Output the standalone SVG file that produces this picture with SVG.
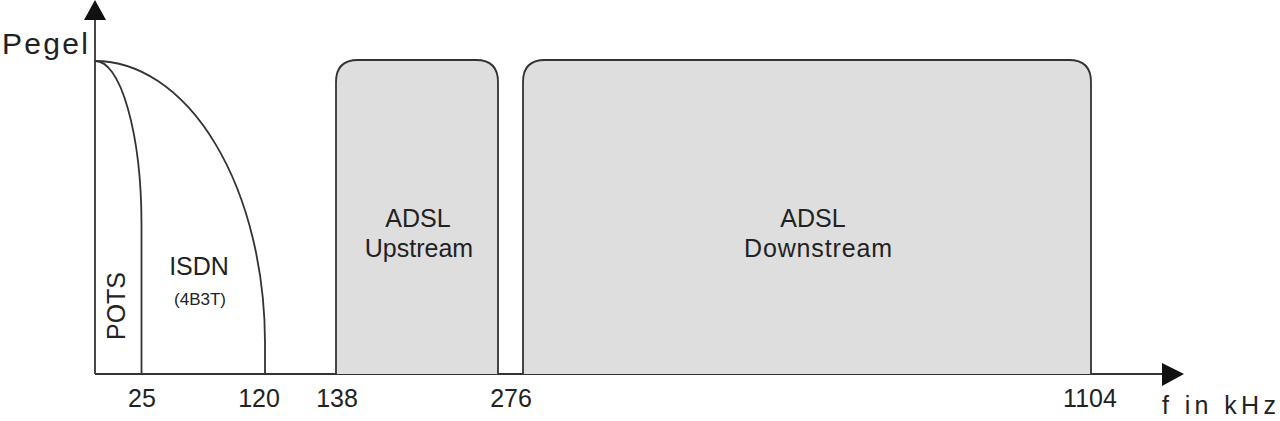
<svg xmlns="http://www.w3.org/2000/svg" width="1280" height="421" viewBox="0 0 1280 421">
  <style>
    .ln { fill: none; stroke: #333; stroke-width: 1.8; }
    .band { fill: #dedede; stroke: #333; stroke-width: 1.8; }
    .ah { fill: #111; stroke: none; }
    text { font-family: "Liberation Sans", Arial, sans-serif; fill: #222; }
    .lbl { font-size: 25px; text-anchor: middle; }
    .tick { font-size: 25px; text-anchor: middle; }
    .small { font-size: 17px; text-anchor: middle; }
  </style>
  <rect width="1280" height="421" fill="#fff"/>

  <g id="axes">
    <line class="ln" x1="95" y1="374" x2="95" y2="18"/>
    <polygon class="ah" points="95,0 84,20 106,20"/>
    <line class="ln" x1="95" y1="374" x2="1164" y2="374"/>
    <polygon class="ah" points="1184,374 1162,363 1162,386"/>
    <text x="2" y="54" font-size="30" textLength="86" lengthAdjust="spacing">Pegel</text>
    <text x="1162" y="414" font-size="25" textLength="114" lengthAdjust="spacing">f in kHz</text>
  </g>

  <g id="pots">
    <path class="ln" d="M95,61 A46,164 0 0 1 141.5,225 L141.5,374"/>
    <text class="lbl" transform="translate(125,306) rotate(-90)">POTS</text>
  </g>

  <g id="isdn">
    <path class="ln" d="M95,61 A170,282 0 0 1 265,343 L265,374"/>
    <text class="lbl" x="199" y="275">ISDN</text>
    <text class="small" x="200" y="305">(4B3T)</text>
  </g>

  <g id="adsl-upstream">
    <path class="band" d="M336,374 L336,82 Q336,60 358,60 L476,60 Q498,60 498,82 L498,374"/>
    <text class="lbl" x="418" y="227">ADSL</text>
    <text class="lbl" x="419" y="257">Upstream</text>
  </g>

  <g id="adsl-downstream">
    <path class="band" d="M523,374 L523,82 Q523,60 545,60 L1069,60 Q1091,60 1091,82 L1091,374"/>
    <text class="lbl" x="813" y="227">ADSL</text>
    <text class="lbl" x="818" y="257" textLength="148" lengthAdjust="spacing">Downstream</text>
  </g>

  <g id="ticks">
    <text class="tick" x="142" y="407">25</text>
    <text class="tick" x="259" y="407">120</text>
    <text class="tick" x="337" y="407">138</text>
    <text class="tick" x="511" y="407">276</text>
    <text class="tick" x="1090" y="407">1104</text>
  </g>
</svg>
